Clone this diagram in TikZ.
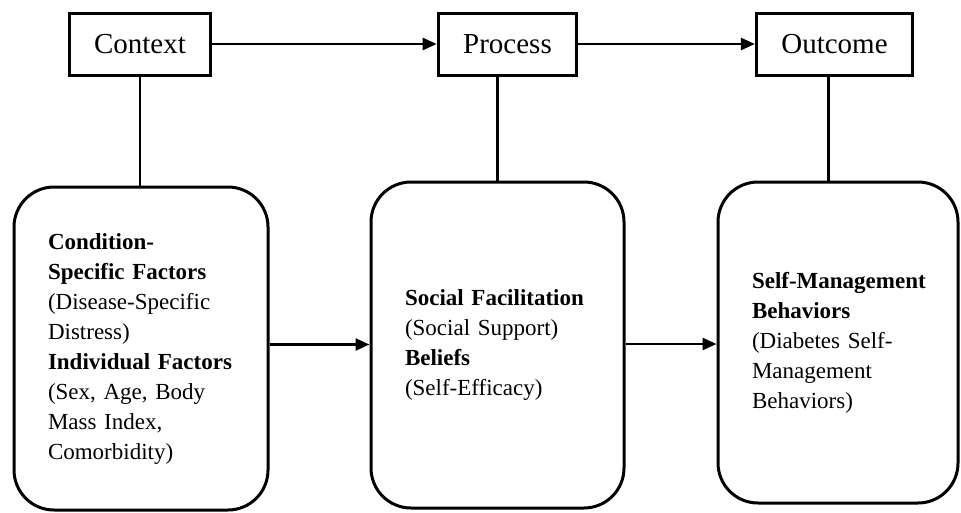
\documentclass[tikz,border=0pt]{standalone}
\usepackage{fontspec}
\setmainfont{Liberation Serif}
\usetikzlibrary{arrows.meta}
\tikzset{
  topbox/.style={draw, line width=3pt, inner xsep=25pt, inner ysep=0pt,
    minimum height=62pt, font=\fontsize{29}{34}\selectfont},
  bigbox/.style={draw, line width=3pt, rounded corners=40pt, inner sep=0pt,
    align=left, font=\fontsize{23}{30}\selectfont},
  link/.style={line width=2.5pt}
}
\begin{document}
\begin{tikzpicture}[x=1pt,y=-1pt,>={Triangle[length=14pt,width=12pt]}]
\useasboundingbox (0,0) rectangle (961,512);
% top row
\node[topbox] (ctx) at (140,44) {Context};
\node[topbox] (proc) at (507.5,44) {Process};
\node[topbox] (outc) at (834.5,44) {Outcome};
% bottom row
\node[bigbox, minimum width=254pt, minimum height=323pt, text width=186pt] (cond) at (141,348.5)
  {\textbf{Condition-}\\ \textbf{Specific Factors}\\ (Disease-Specific\\ Distress)\\
   \textbf{Individual Factors}\\ (Sex, Age, Body\\ Mass Index,\\ Comorbidity)};
\node[bigbox, minimum width=253pt, minimum height=326pt, text width=185pt] (soc) at (497.5,345)
  {\textbf{Social Facilitation}\\ (Social Support)\\ \textbf{Beliefs}\\ (Self-Efficacy)};
\node[bigbox, minimum width=240pt, minimum height=321pt, text width=172pt] (smb) at (838,342.5)
  {\mbox{\textbf{Self-Management}}\\ \textbf{Behaviors}\\ (Diabetes Self-\\ Management\\ Behaviors)};
% connectors
\draw[link,->] (ctx) -- (proc);
\draw[link,->] (proc) -- (outc);
\draw[link] (ctx.south) -- (ctx.south |- cond.north);
\draw[link] (soc.north) -- (soc.north |- proc.south);
\draw[link] ([xshift=-6pt]outc.south) -- ([xshift=-6pt]outc.south |- smb.north);
\draw[link,->] ([yshift=4pt]cond.east) -- ([yshift=4pt]cond.east -| soc.west);
\draw[link,->] ([yshift=1pt]soc.east) -- ([yshift=1pt]soc.east -| smb.west);
\end{tikzpicture}
\end{document}
